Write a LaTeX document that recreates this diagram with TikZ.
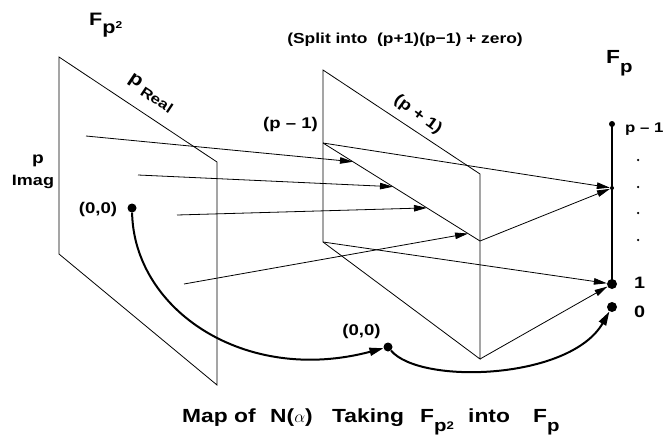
\documentclass[tikz,border=0pt]{standalone}
\usepackage{fontspec}
\setmainfont{Liberation Sans}[FakeStretch=1.2]
\usetikzlibrary{arrows.meta,calc}
\begin{document}
\begin{tikzpicture}[x=1pt,y=-1pt,
  plane/.style={line width=0.8pt},
  arr/.style={line width=0.8pt,-{Triangle[length=13pt,width=6.5pt]}},
  boldarr/.style={line width=2pt,-{Triangle[length=14pt,width=8pt]}},
  lbl/.style={inner sep=0pt,font=\bfseries\fontsize{#1}{#1}\selectfont},
  lbl/.default=15.5,
  dotc/.style={circle,fill=black,inner sep=0pt,minimum size=#1}
]
\useasboundingbox (0,0) rectangle (667,442);

% left plane F_{p^2}
\coordinate (L1) at (59,57);
\coordinate (L2) at (217,162);
\coordinate (L3) at (217,385);
\coordinate (L4) at (59,254);
\draw[plane] (L1) -- (L2) -- (L3) -- (L4) -- cycle;

% middle plane
\coordinate (M1) at (323,70);
\coordinate (M2) at (480,174);
\coordinate (M3) at (480,359);
\coordinate (M4) at (323,242);
\coordinate (Mi) at (323,143);
\coordinate (Mj) at (480,241);
\draw[plane] (M1) -- (M2) -- (M3) -- (M4) -- cycle;
\draw[plane] (Mi) -- (Mj);

% F_p line and points
\node[dotc=6pt] (top) at (612,124) {};
\node[dotc=4pt] (mid) at (612,188) {};
\node[dotc=10pt] (one) at (612,284) {};
\node[dotc=10pt] (zero) at (612,307) {};
\draw[line width=1.8pt] (top.center) -- (one.center);
\node[dotc=2.5pt] (d1) at (638,160) {};
\node[dotc=2.5pt] (d2) at (638,187) {};
\node[dotc=2.5pt] (d3) at (638,213) {};
\node[dotc=2.5pt] (d4) at (638,240) {};

% arrows from the left plane onto the inner diagonal
\coordinate (s1) at (86,136);
\coordinate (s2) at (138,175);
\coordinate (s3) at (177,215);
\coordinate (s4) at (184,284);
\coordinate (t1) at ($(Mi)!0.191!(Mj)$);
\coordinate (t2) at ($(Mi)!0.446!(Mj)$);
\coordinate (t3) at ($(Mi)!0.662!(Mj)$);
\coordinate (t4) at ($(Mi)!0.924!(Mj)$);
\draw[arr] (s1) -- (t1);
\draw[arr] (s2) -- (t2);
\draw[arr] (s3) -- (t3);
\draw[arr] (s4) -- (t4);

% arrows from the middle plane onto F_p
\draw[arr] (Mi) -- (mid);
\draw[arr] (Mj) -- (mid);
\draw[arr] (M4) -- (one);
\draw[arr] (M3) -- (one);

% zero mapping
\node[dotc=9pt] (z1) at (132,208) {};
\node[dotc=9pt] (z2) at (388,347) {};
\draw[boldarr] (z1) .. controls (134,310) and (245,385) .. (z2);
\draw[boldarr] (z2) .. controls (420,385) and (570,380) .. (zero);

% labels
\node[inner sep=0pt,anchor=base west] (Fsq) at (89,25)
  {\bfseries\fontsize{18}{18}\selectfont F\raisebox{-8pt}{\fontsize{18}{18}\selectfont p}\raisebox{-3.5pt}{\fontsize{10}{10}\selectfont 2}};
\node[inner sep=0pt,anchor=base west] (Fp) at (606,63)
  {\bfseries\fontsize{19}{19}\selectfont F\raisebox{-9pt}{\fontsize{17}{17}\selectfont p}};
\node[lbl=14.5,anchor=base] (split) at (405,43) {(Split into\ \ (p+1)(p−1) + zero)};
\node[lbl,anchor=base] (pm1) at (290.5,128) {(p – 1)};
\node[lbl,rotate=-36] (pp1) at (418,115) {(p + 1)};
\node[inner sep=0pt,rotate=-33.6] (preal) at (151,93)
  {\bfseries\fontsize{18}{18}\selectfont p\hspace{4pt}\raisebox{-5pt}{\fontsize{14}{14}\selectfont Real}};
\node[lbl=16,anchor=base] (pim) at (38,163) {p};
\node[lbl=15,anchor=base] (imag) at (33,185) {Imag};
\node[lbl,anchor=base] (z1l) at (98,213) {(0,0)};
\node[lbl,anchor=base] (z2l) at (361.5,335) {(0,0)};
\node[lbl=14,anchor=base west] (topl) at (625,132) {p – 1};
\node[lbl=16.5,anchor=base west] (onel) at (634,288) {1};
\node[lbl=16.5,anchor=base west] (zerol) at (634,317) {0};

% caption
\node[lbl=19,anchor=base west] (c1) at (182,422) {Map of};
\node[lbl=19,anchor=base west] (c2) at (270,422) {N($\alpha$)};
\node[lbl=19,anchor=base west] (c3) at (332,422) {Taking};
\node[inner sep=0pt,anchor=base west] (c4) at (420,422)
  {\bfseries\fontsize{19}{19}\selectfont F\raisebox{-9pt}{\fontsize{17}{17}\selectfont p}\raisebox{-7pt}{\fontsize{11}{11}\selectfont 2}};
\node[lbl=19,anchor=base west] (c5) at (468,422) {into};
\node[inner sep=0pt,anchor=base west] (c6) at (533,422)
  {\bfseries\fontsize{19}{19}\selectfont F\raisebox{-9pt}{\fontsize{17}{17}\selectfont p}};
\end{tikzpicture}
\end{document}
